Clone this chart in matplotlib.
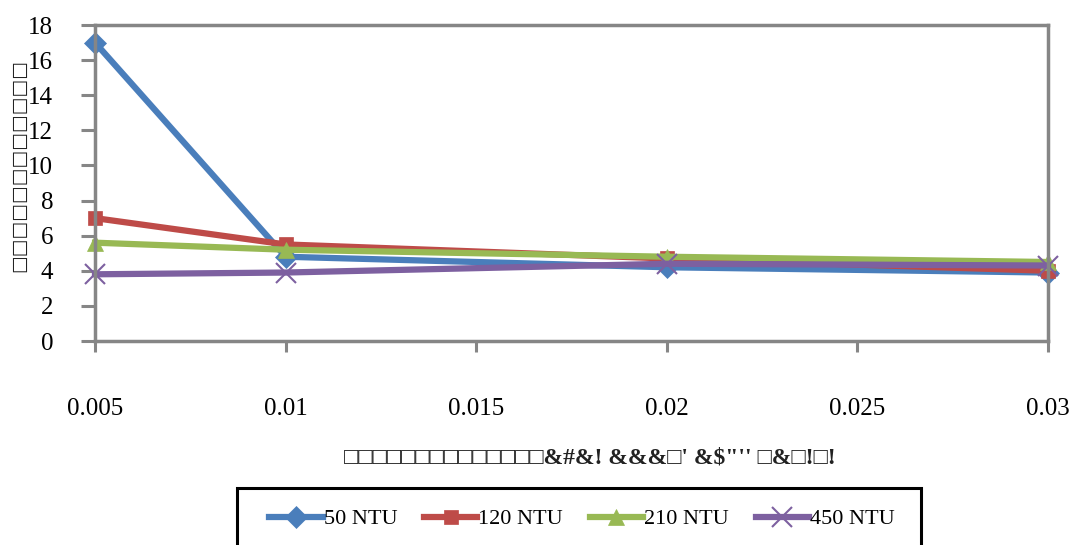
import matplotlib
matplotlib.use("Agg")
import matplotlib.pyplot as plt
from matplotlib.patches import Rectangle

# Dose (x) and residual turbidity readings for each initial turbidity level
dose = [0.005, 0.01, 0.02, 0.03]
ntu_50 = [17.0, 4.8, 4.2, 3.9]
ntu_120 = [7.0, 5.5, 4.7, 4.0]
ntu_210 = [5.6, 5.2, 4.8, 4.5]
ntu_450 = [3.8, 3.9, 4.4, 4.3]
series_labels = ["50 NTU", "120 NTU", "210 NTU", "450 NTU"]
x_ticks = [0.005, 0.01, 0.015, 0.02, 0.025, 0.03]
x_tick_labels = ["0.005", "0.01", "0.015", "0.02", "0.025", "0.03"]
y_ticks = [0, 2, 4, 6, 8, 10, 12, 14, 16, 18]

x_label = "\u25a1\u25a1\u25a1\u25a1\u25a1\u25a1\u25a1\u25a1\u25a1\u25a1\u25a1\u25a1\u25a1\u25a1&#&! &&&\u25a1' &$\"'' \u25a1&\u25a1!\u25a1!"
y_label = "\u25a1" * 12

W, H = 1072, 545
fig = plt.figure(figsize=(W / 100, H / 100), dpi=100)
ax = fig.add_axes([95 / W, 1 - 341 / H, (1048 - 95) / W, (341 - 25) / H])

colors = ["#4A7EBB", "#BE4B48", "#98B954", "#7D60A0"]
markers = ["D", "s", "^", "x"]
msizes = [11, 10, 11, 14]
for vals, c, m, ms, lab in zip([ntu_50, ntu_120, ntu_210, ntu_450], colors,
                               markers, msizes, series_labels):
    ax.plot(dose, vals, color=c, lw=4.5, marker=m, markersize=ms,
            markeredgewidth=1.5 if m == "x" else 0.5, markeredgecolor=c,
            markerfacecolor=c, label=lab, solid_joinstyle="miter",
            clip_on=False)

ax.set_xlim(0.005, 0.03)
ax.set_ylim(0, 18)
ax.set_xticks(x_ticks)
ax.set_xticklabels(x_tick_labels)
ax.set_yticks(y_ticks)

grey = "#868686"
for s in ax.spines.values():
    s.set_color(grey)
    s.set_linewidth(2.5)

for lab in ax.get_xticklabels() + ax.get_yticklabels():
    lab.set_fontfamily("Liberation Serif")
    lab.set_fontsize(18)
ax.tick_params(axis="y", direction="out", length=10, width=2.2, color=grey, pad=20)
ax.tick_params(axis="x", direction="out", length=8, width=2.2, color=grey, pad=33)

fig.text(590 / W, 1 - 458 / H, x_label, ha="center", va="center",
         family=["Liberation Serif", "DejaVu Sans"], fontsize=17, fontweight="bold",
         color="#222222")
fig.text(19 / W, 1 - 166 / H, y_label, ha="center", va="center", rotation=90,
         family=["DejaVu Sans"], fontsize=13.5, color="#222222")

# Legend with a heavy black frame that runs past the bottom edge
fig.patches.append(Rectangle((237 / W, -0.05), (921 - 237) / W, 0.05 + (545 - 488) / H,
                             transform=fig.transFigure, fill=False,
                             edgecolor="black", linewidth=2.2))
leg = fig.legend(loc="center", bbox_to_anchor=(582 / W, 1 - 519 / H), ncol=4,
                 frameon=False, prop={"family": "Liberation Serif", "size": 16},
                 handlelength=2.4, handletextpad=0.05, columnspacing=1.2,
                 borderaxespad=0)

fig.savefig("out.png", dpi=100, facecolor="white")
